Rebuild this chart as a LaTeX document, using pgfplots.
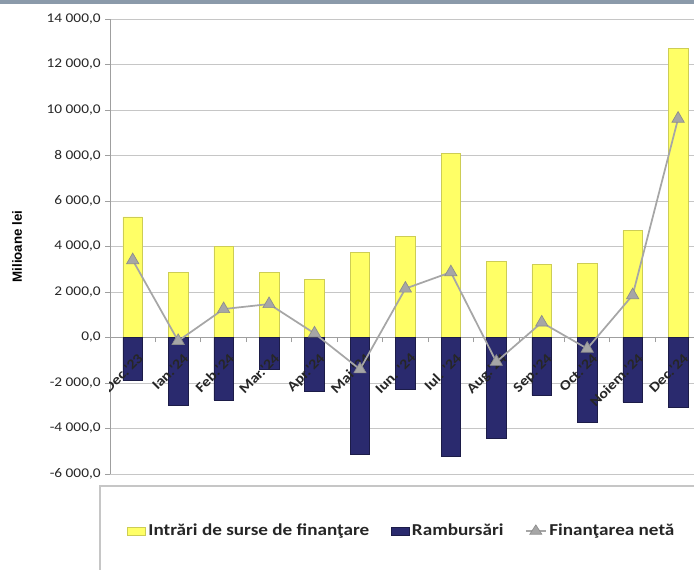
\documentclass[border=0pt]{standalone}
\usepackage{pgfplots}
\pgfplotsset{compat=1.18}
\usepackage{fontspec}
\setmainfont[FakeStretch=1.15]{Carlito}
\newfontfamily\arialfont{Liberation Sans}
\definecolor{yel}{HTML}{FFFF66}
\definecolor{yeledge}{HTML}{CDCD55}
\definecolor{navy}{HTML}{2A2A6E}
\definecolor{navyedge}{HTML}{1C1C48}
\definecolor{netgray}{HTML}{A6A6A6}
\definecolor{gridgray}{HTML}{C6C6C6}
\definecolor{topband}{HTML}{8B9AAA}
\tikzset{xl/.style={rotate=45, anchor=north east, font=\bfseries\fontsize{10.5}{12}\selectfont, text=black!85, inner sep=1pt, yshift=-9pt, xshift=-4.5pt}}
\begin{document}
\begin{tikzpicture}[x=1pt,y=1pt]
\fill[topband] (0,423.5) rectangle (520.5,426.75);
\draw[gray!45, line width=0.8pt] (75,-10) -- (75,62.25) -- (530,62.25);
\begin{axis}[
  at={(82.5pt,71.25pt)}, anchor=south west,
  scale only axis, width=438pt, height=341.25pt,
  xmin=-0.5, xmax=12.35, ymin=-6000, ymax=14000,
  axis x line=middle, axis y line=left,
  axis line style={-, draw=gray!75, line width=0.7pt},
  ybar, bar width=0.43, bar shift=0pt,
  ytick={-6000,-4000,...,14000},
  scaled y ticks=false,
  ymajorgrids, grid style={gridgray, line width=0.7pt},
  ytick align=outside, major tick length=3.5pt,
  ytick style={draw=gray!75},
  yticklabel style={font=\fontsize{10}{12}\selectfont, text=black!85,
    /pgf/number format/.cd, fixed, fixed zerofill, precision=1, use comma, 1000 sep={\ }, assume math mode=true},
  xtick={0.5,1.5,...,11.5},
  xticklabels={},
  xtick style={draw=gray!75, line width=0.7pt},
  xtick align=outside,
  ylabel={\arialfont\bfseries Milioane lei},
  ylabel style={at={(axis description cs:-0.159,0.5)}, anchor=center, font=\fontsize{10}{12}\selectfont},
  legend columns=3,
  legend style={at={(0.022,-0.125)}, anchor=west, draw=none, fill=none,
    font=\bfseries\fontsize{12.5}{14}\selectfont, text=black!85,
    /tikz/every even column/.append style={column sep=14pt}},
]
\addplot[fill=yel, draw=yeledge, line width=0.5pt,
  legend image code/.code={\draw[fill=yel, draw=yeledge] (0pt,-3pt) rectangle (13.5pt,3pt);}]
  coordinates {(0,5300) (1,2850) (2,4000) (3,2850) (4,2550) (5,3750) (6,4430) (7,8100) (8,3350) (9,3200) (10,3250) (11,4700) (12,12700)};
\addlegendentry{Intrări de surse de finanţare}
\addplot[fill=navy, draw=navyedge, line width=0.5pt,
  legend image code/.code={\draw[fill=navy, draw=navyedge] (0pt,-3pt) rectangle (13.5pt,3pt);}]
  coordinates {(0,-1900) (1,-3000) (2,-2750) (3,-1380) (4,-2370) (5,-5150) (6,-2280) (7,-5230) (8,-4420) (9,-2540) (10,-3740) (11,-2840) (12,-3080)};
\addlegendentry{Rambursări}
\node[xl] at (axis cs:0,0) {Dec.\textquotesingle23};
\node[xl] at (axis cs:1,0) {Ian.\textquotesingle24};
\node[xl] at (axis cs:2,0) {Feb.\textquotesingle24};
\node[xl] at (axis cs:3,0) {Mar.\textquotesingle24};
\node[xl] at (axis cs:4,0) {Apr.\textquotesingle24};
\node[xl] at (axis cs:5,0) {Mai \textquotesingle24};
\node[xl] at (axis cs:6,0) {Iun. \textquotesingle24};
\node[xl] at (axis cs:7,0) {Iul. \textquotesingle24};
\node[xl] at (axis cs:8,0) {Aug.\textquotesingle24};
\node[xl] at (axis cs:9,0) {Sep.\textquotesingle24};
\node[xl] at (axis cs:10,0) {Oct.\textquotesingle24};
\node[xl] at (axis cs:11,0) {Noiem.\textquotesingle24};
\node[xl] at (axis cs:12,0) {Dec.\textquotesingle24};
\addplot[sharp plot, draw=netgray, line width=1.3pt, mark=triangle*, mark size=5.3pt,
  mark options={fill=netgray, draw=gray!90, line width=0.5pt},
  legend image code/.code={\draw[netgray, line width=1.3pt] (0pt,0pt) -- (15pt,0pt);
     \filldraw[fill=netgray, draw=gray!90, line width=0.5pt] (7.5pt,4.5pt) -- (3pt,-2.5pt) -- (12pt,-2.5pt) -- cycle;}]
  coordinates {(0,3400) (1,-150) (2,1250) (3,1470) (4,180) (5,-1400) (6,2150) (7,2870) (8,-1070) (9,660) (10,-490) (11,1860) (12,9620)};
\addlegendentry{Finanţarea netă}
\end{axis}
\pgfresetboundingbox
\path[use as bounding box] (0,0) rectangle (520.5,426.75);
\end{tikzpicture}
\end{document}
